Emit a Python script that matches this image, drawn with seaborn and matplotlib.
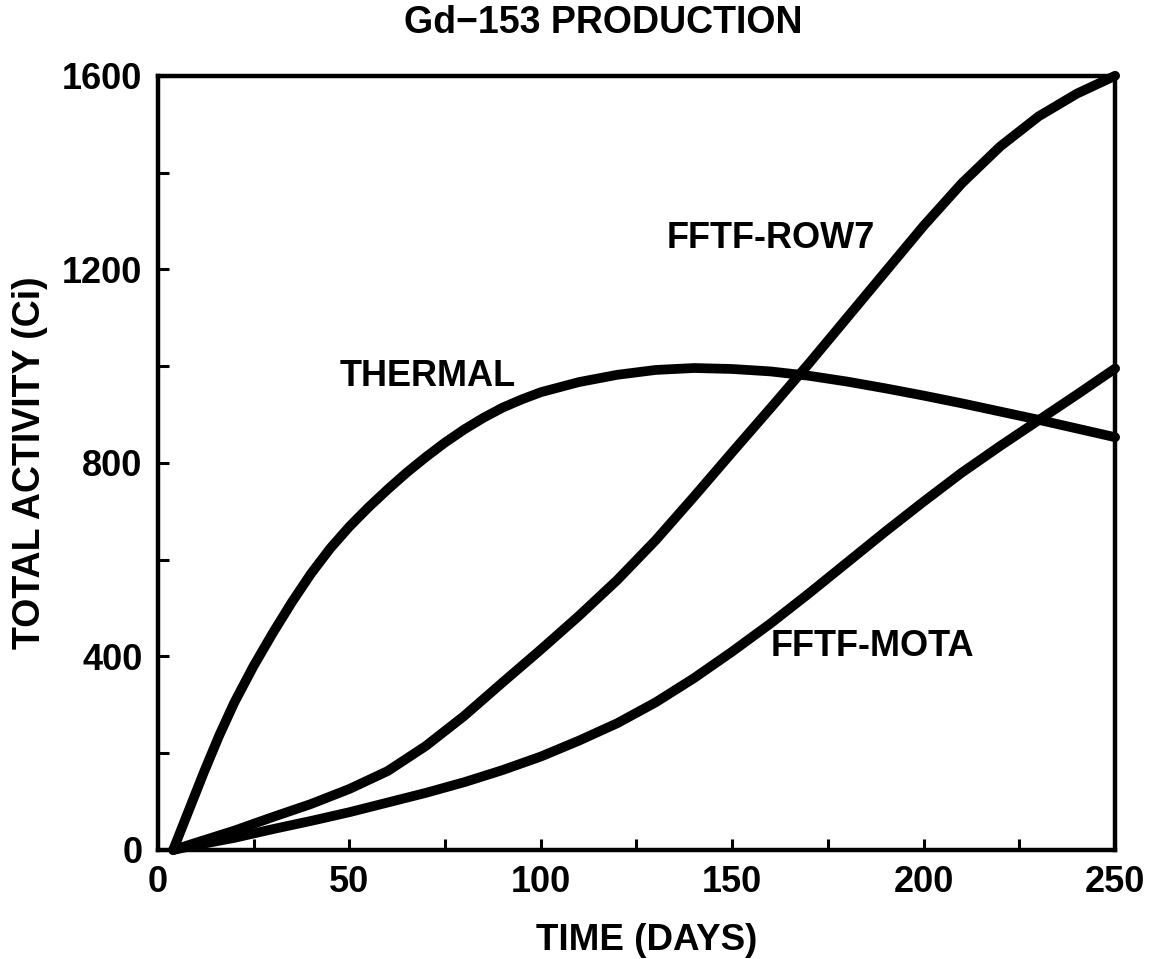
import numpy as np
import pandas as pd
import matplotlib
matplotlib.use("Agg")
import matplotlib.pyplot as plt
import seaborn as sns
from matplotlib.ticker import MultipleLocator

# Irradiation time (days) and total Gd-153 activity (Ci) for each facility
thermal_days = [4, 8, 12, 16, 20, 25, 30, 35, 40, 45, 50, 55, 60, 65, 70,
                75, 80, 85, 90, 95, 100, 110, 120, 130, 140, 150, 160, 170,
                180, 190, 200, 210, 220, 230, 240, 250]
thermal = [0, 80, 160, 236, 305, 380, 448, 512, 571, 623, 668, 708, 745,
           780, 812, 842, 869, 893, 914, 931, 946, 967, 982, 992, 996, 994,
           989, 980, 968, 954, 939, 923, 906, 889, 871, 853]

fftf_days = [4, 10, 20, 30, 40, 50, 60, 70, 80, 90, 100, 110, 120, 130,
             140, 150, 160, 170, 180, 190, 200, 210, 220, 230, 240, 250]
fftf_row7 = [0, 15, 40, 68, 95, 126, 163, 215, 277, 346, 414, 484, 558,
             640, 730, 822, 913, 1005, 1100, 1195, 1290, 1378, 1454, 1516,
             1563, 1600]
fftf_mota = [0, 10, 25, 43, 60, 78, 98, 118, 140, 165, 193, 226, 262,
             305, 355, 410, 468, 530, 594, 658, 720, 780, 835, 888, 941, 995]

series_names = ["THERMAL", "FFTF-ROW7", "FFTF-MOTA"]
label_pos = {"THERMAL": (47.5, 978),
             "FFTF-ROW7": (133.0, 1264),
             "FFTF-MOTA": (160.0, 420)}

title = "Gd\u2212153 PRODUCTION"
x_label = "TIME (DAYS)"
y_label = "TOTAL ACTIVITY (Ci)"

df = pd.concat([
    pd.DataFrame({"days": thermal_days, "activity": thermal,
                  "source": "THERMAL"}),
    pd.DataFrame({"days": fftf_days, "activity": fftf_row7,
                  "source": "FFTF-ROW7"}),
    pd.DataFrame({"days": fftf_days, "activity": fftf_mota,
                  "source": "FFTF-MOTA"}),
], ignore_index=True)

sns.set_style("ticks")
plt.rcParams["font.family"] = ["Liberation Sans", "DejaVu Sans"]
plt.rcParams["font.weight"] = "bold"
plt.rcParams["text.color"] = "black"
plt.rcParams["axes.labelcolor"] = "black"
plt.rcParams["xtick.color"] = "black"
plt.rcParams["ytick.color"] = "black"

fig = plt.figure(figsize=(11.52, 9.59), dpi=100)
ax = fig.add_axes([0.137, 0.1137, 0.831, 0.8073])

sns.lineplot(data=df, x="days", y="activity", hue="source",
             hue_order=series_names, palette=["black"] * 3, linewidth=7.0,
             legend=False, ax=ax, solid_capstyle="round",
             solid_joinstyle="round", clip_on=False)

ax.set_xlim(0, 250)
ax.set_ylim(0, 1600)
ax.xaxis.set_major_locator(MultipleLocator(50))
ax.xaxis.set_minor_locator(MultipleLocator(25))
ax.yaxis.set_major_locator(MultipleLocator(400))
ax.yaxis.set_minor_locator(MultipleLocator(200))
ax.tick_params(which="both", direction="in", length=8, width=2.2,
               top=False, right=False, colors="black")
ax.tick_params(axis="x", which="major", pad=11, labelsize=26)
ax.tick_params(axis="y", which="major", pad=11, labelsize=26)
for lbl in ax.get_xticklabels() + ax.get_yticklabels():
    lbl.set_fontweight("bold")
    lbl.set_color("black")

for side in ["left", "right", "top", "bottom"]:
    ax.spines[side].set_visible(True)
    ax.spines[side].set_linewidth(3.2)
    ax.spines[side].set_color("black")

ax.set_xlabel("")
ax.set_ylabel(y_label, fontsize=27, fontweight="bold", color="black")
ax.yaxis.set_label_coords(-0.115, 0.5)

for name, (x, y) in label_pos.items():
    ax.text(x, y, name, fontsize=26, fontweight="bold", ha="left",
            va="center", color="black")

fig.text(0.524, 0.976, title, fontsize=27, fontweight="bold",
         ha="center", va="center", color="black")
fig.text(0.561, 0.019, x_label, fontsize=26.5, fontweight="bold",
         ha="center", va="center", color="black")

fig.savefig("out.png", dpi=100, facecolor="white")
